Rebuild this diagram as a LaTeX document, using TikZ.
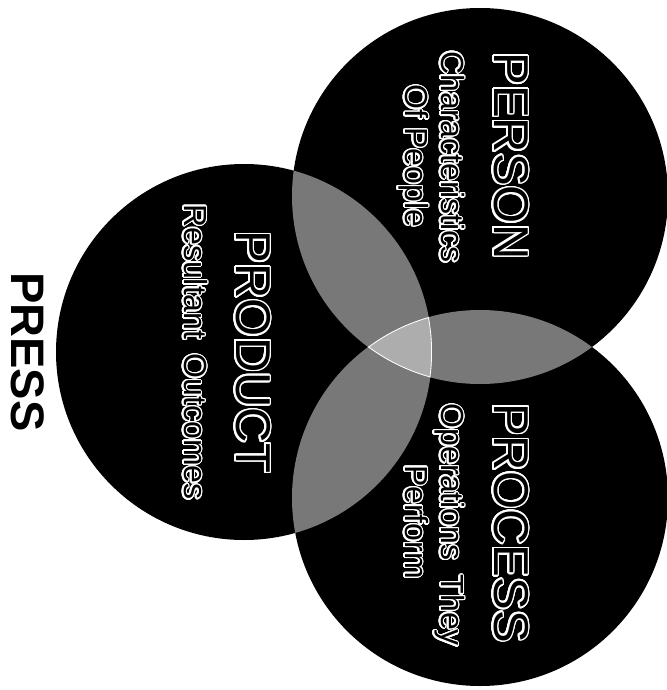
\documentclass[tikz,border=0pt]{standalone}
\usepackage{fontspec}
\setmainfont{Liberation Sans}
\usepackage{contour}
\usepackage{tikz}
\definecolor{lensgray}{gray}{0.47}
\definecolor{coregray}{gray}{0.68}
\tikzset{
  setdisc/.style={fill=black},
  lens/.style={fill=lensgray},
  core/.style={fill=coregray},
  corerim/.style={draw=white, line width=1.6pt},
  title/.style={rotate=-90, anchor=base, inner sep=0pt,
    font=\fontsize{49}{52}\selectfont},
  subtitle/.style={rotate=-90, anchor=base, inner sep=0pt,
    font=\fontsize{32}{36}\selectfont},
  press/.style={rotate=-90, anchor=base, inner sep=0pt,
    font=\fontsize{47}{50}\selectfont\bfseries},
}
\contournumber{24}
\newcommand{\hollowbig}[1]{\contourlength{1.7pt}\contour{white}{#1}}
\newcommand{\hollow}[1]{\contourlength{1.4pt}\contour{white}{#1}}
\newcommand{\vennr}{188}

\begin{document}
\begin{tikzpicture}[x=1pt, y=-1pt]
  \useasboundingbox (0,0) rectangle (666,690);
  % centres of the three sets
  \coordinate (person) at (480,196);
  \coordinate (process) at (480,498);
  \coordinate (product) at (244,352);
  \foreach \c in {person,process,product}
    \fill[setdisc] (\c) circle[radius=\vennr];
  % pairwise overlaps
  \begin{scope}
    \clip (person) circle[radius=\vennr];
    \fill[lens] (process) circle[radius=\vennr];
    \fill[lens] (product) circle[radius=\vennr];
  \end{scope}
  \begin{scope}
    \clip (process) circle[radius=\vennr];
    \fill[lens] (product) circle[radius=\vennr];
  \end{scope}
  % common core
  \begin{scope}
    \clip (person) circle[radius=\vennr];
    \clip (process) circle[radius=\vennr];
    \clip (product) circle[radius=\vennr];
    \fill[core] (product) circle[radius=\vennr];
    \foreach \c in {person,process,product}
      \draw[corerim] (\c) circle[radius=\vennr];
  \end{scope}
  % labels
  \node[title] (personT) at (494,156) {\hollowbig{PERSON}};
  \node[subtitle] (personS1) at (441,157) {\hollow{Characteristics}};
  \node[subtitle] (personS2) at (405,156) {\hollow{Of People}};
  \node[title] (productT) at (236,352) {\hollowbig{PRODUCT}};
  \node[subtitle] (productS) at (184,352) {\hollow{Resultant\hspace{0.45em}Outcomes}};
  \node[title] (processT) at (494,523) {\hollowbig{PROCESS}};
  \node[subtitle] (processS1) at (441,525) {\hollow{Operations\hspace{0.45em}They}};
  \node[subtitle] (processS2) at (405,522) {\hollow{Perform}};
  \node[press] (pressT) at (12,352) {PRESS};
\end{tikzpicture}
\end{document}
